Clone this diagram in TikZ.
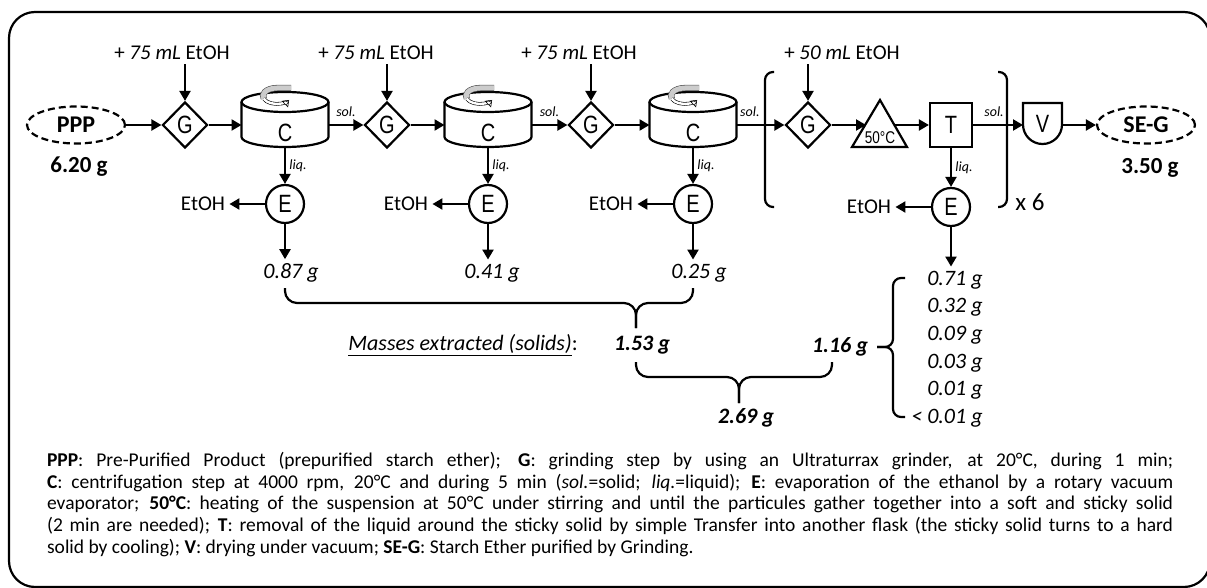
\documentclass[tikz,border=0pt]{standalone}
\usepackage{fontspec}
\setmainfont{Carlito}
\newfontfamily\nodefont[FakeStretch=0.8]{Liberation Sans}
\usetikzlibrary{shapes.geometric,arrows.meta}

\begin{document}
\begin{tikzpicture}[x=1pt, y=-1pt, line width=2.2pt,
  >={Triangle[length=10pt,width=11pt]},
  every node/.style={font=\fontsize{21}{21}\selectfont},
  grind/.style={diamond, draw, minimum width=45pt, minimum height=46pt, inner sep=0pt, font=\nodefont\fontsize{25}{25}\selectfont},
  evap/.style={circle, draw, minimum size=38pt, inner sep=0pt, font=\nodefont\fontsize{25}{25}\selectfont},
  cyl/.style={minimum width=87pt, minimum height=35pt, inner sep=0pt, outer sep=0pt},
  letter/.style={font=\nodefont\fontsize{25}{25}\selectfont},
  prod/.style={ellipse, draw, dash pattern=on 7pt off 4pt, minimum width=98pt, minimum height=37pt, inner sep=0pt, font=\bfseries\fontsize{24}{24}\selectfont},
  tag/.style={font=\itshape\fontsize{14}{14}\selectfont},
  mass/.style={font=\itshape\fontsize{22}{22}\selectfont},
  total/.style={font=\bfseries\itshape\fontsize{22}{22}\selectfont},
  brace/.style={rounded corners=12pt}]
\useasboundingbox (0,0) rectangle (1207,588);
\draw[rounded corners=26pt] (9,12) rectangle (1210,587);

% washing stages
\node[prod] (ppp) at (76,125) {PPP};
\node[font=\bfseries\fontsize{23}{23}\selectfont] (m0) at (79,167) {6.20 g};
\node (add1) at (172,53) {+ \textit{75 mL} EtOH};
\node[grind] (g1) at (185,125) {G};
\node[cyl] (c1) at (285,119.5) {};
\node[letter] (c1l) at (285,133) {C};
\node[evap] (e1) at (285,204) {E};
\node (et1) at (203,204) {EtOH};
\node[mass] (m1) at (291,273) {0.87 g};

\node (add2) at (376,53) {+ \textit{75 mL} EtOH};
\node[grind] (g2) at (387,125) {G};
\node[cyl] (c2) at (488,119.5) {};
\node[letter] (c2l) at (488,133) {C};
\node[evap] (e2) at (488,204) {E};
\node (et2) at (406,204) {EtOH};
\node[mass] (m2) at (492,273) {0.41 g};

\node (add3) at (579,53) {+ \textit{75 mL} EtOH};
\node[grind] (g3) at (591,125) {G};
\node[cyl] (c3) at (693,119.5) {};
\node[letter] (c3l) at (693,133) {C};
\node[evap] (e3) at (693,204) {E};
\node (et3) at (611,204) {EtOH};
\node[mass] (m3) at (699,273) {0.25 g};

\foreach \c in {c1,c2,c3} {
  \draw (\c.north west) -- (\c.south west) arc[start angle=180, end angle=360, x radius=43.5pt, y radius=10pt] -- (\c.north east);
  \draw (\c.north) ellipse[x radius=43.5pt, y radius=10pt];
  \draw[line width=0.6pt, draw=black!70, double=gray!40, double distance=5pt] ([xshift=6pt,yshift=14pt]\c.north) -- ++(-14pt,0) arc[start angle=90, end angle=200, x radius=14pt, y radius=8pt];
  \draw[line width=0.6pt, double=white, double distance=2.4pt, -{Triangle[open,length=6pt,width=9pt]}] ([xshift=-21.2pt,yshift=3.3pt]\c.north) arc[start angle=200, end angle=330, x radius=14pt, y radius=8pt];
}

\draw[->] (ppp) -- (g1);
\draw[->] (add1.south -| g1) -- (g1.north);
\draw[->] (g1) -- (g1 -| c1.west);
\draw[->] ([yshift=-10pt]c1.south) -- (e1) node[midway, right, tag] {liq.};
\draw[->] (e1) -- (et1);
\draw[->] (e1) -- (m1.north -| e1);

\draw[->] (c1.east |- g2) -- (g2) node[midway, above=4pt, tag] {sol.};
\draw[->] (add2.south -| g2) -- (g2.north);
\draw[->] (g2) -- (g2 -| c2.west);
\draw[->] ([yshift=-10pt]c2.south) -- (e2) node[midway, right, tag] {liq.};
\draw[->] (e2) -- (et2);
\draw[->] (e2) -- (m2.north -| e2);

\draw[->] (c2.east |- g3) -- (g3) node[midway, above=4pt, tag] {sol.};
\draw[->] (add3.south -| g3) -- (g3.north);
\draw[->] (g3) -- (g3 -| c3.west);
\draw[->] ([yshift=-10pt]c3.south) -- (e3) node[midway, right, tag] {liq.};
\draw[->] (e3) -- (et3);
\draw[->] (e3) -- (m3.north -| e3);

% repeated step (x 6)
\draw[rounded corners=8pt] (774,72) -- (765,72) -- (765,207) -- (774,207);
\draw[rounded corners=8pt] (998,72) -- (1007,72) -- (1007,207) -- (998,207);
\node (add4) at (842,53) {+ \textit{50 mL} EtOH};
\node[grind] (g4) at (808,125) {G};
\draw[->] (c3.east |- g4) -- (g4) node[pos=0.28, above=4pt, tag] {sol.};
\draw[->] (add4.south -| g4) -- (g4.north);
\coordinate (hin) at (866,125);
\coordinate (hout) at (894,125);
\draw[line join=miter] (880,100) -- (907,147) -- (852,147) -- cycle;
\node[font=\nodefont\fontsize{17}{17}\selectfont] (heat) at (880,138) {50°C};
\draw[->] (g4) -- (hin);
\node[draw, letter, minimum width=42pt, minimum height=44pt, inner sep=0pt] (t) at (951,125) {T};
\draw[->] (hout) -- (t);
\node[evap] (e4) at (951,207) {E};
\draw[->] (t) -- (e4) node[midway, right, tag] {liq.};
\node (et4) at (869,207) {EtOH};
\draw[->] (e4) -- (et4);
\node[font=\fontsize{25}{25}\selectfont] (rep) at (1030,202) {x 6};

\node[letter, minimum width=39pt, minimum height=41pt, inner sep=0pt, outer sep=0pt] (v) at (1042.5,123.5) {V};
\draw (v.north west) -- (v.north east) -- ++(0,21.5) arc[start angle=0, end angle=-180, radius=19.5pt] -- cycle;
\draw[->] (t) -- (t -| v.west) node[pos=0.42, above=4pt, tag] {sol.};
\node[prod] (seg) at (1146,125) {SE-G};
\draw[->] (v.east |- seg) -- (seg);
\node[font=\bfseries\fontsize{23}{23}\selectfont] (m5) at (1150,168) {3.50 g};

% extracted masses
\draw[brace] (285,288) -- (285,303) -- (636,303) -- (636,328);
\draw[brace] (693,288) -- (693,303) -- (636,303) -- (636,328);
\node[mass] (mx) at (463,345) {\underline{Masses extracted (solids)}\textup{:}};
\node[total] (s1) at (642,345) {1.53 g};
\draw[brace] (636,362) -- (636,377) -- (739,377) -- (739,403);
\draw[brace] (832,362) -- (832,377) -- (739,377) -- (739,403);
\node[total] (s2) at (746,418) {2.69 g};
\node[total] (s3) at (840,347) {1.16 g};
\draw[rounded corners=8pt] (905,278) -- (893,278) -- (893,347) -- (877,347);
\draw[rounded corners=8pt] (905,417) -- (893,417) -- (893,347) -- (877,347);
\foreach \v [count=\i] in {0.71, 0.32, 0.09, 0.03, 0.01, {< 0.01}}
  \node[mass, anchor=east] (l\i) at (987, 252.4+27.6*\i) {\v\ g};
\draw[->] (e4) -- (e4 |- l1.north);

% legend
\node[anchor=north west, inner sep=0pt, text width=1126pt, align=justify, font=\fontsize{19.5}{21.7}\selectfont] (legend) at (46,451) {\textbf{PPP}: Pre-Purified Product (prepurified starch ether); \textbf{G}: grinding step by using an Ultraturrax grinder, at 20°C, during 1 min;\linebreak \textbf{C}: centrifugation step at 4000 rpm, 20°C and during 5 min (\textit{sol.}=solid; \textit{liq.}=liquid); \textbf{E}: evaporation of the ethanol by a rotary vacuum\linebreak evaporator; \textbf{50°C}: heating of the suspension at 50°C under stirring and until the particules gather together into a soft and sticky solid\linebreak (2 min are needed); \textbf{T}: removal of the liquid around the sticky solid by simple Transfer into another flask (the sticky solid turns to a hard\linebreak solid by cooling); \textbf{V}: drying under vacuum; \textbf{SE-G}: Starch Ether purified by Grinding.};
\end{tikzpicture}
\end{document}
